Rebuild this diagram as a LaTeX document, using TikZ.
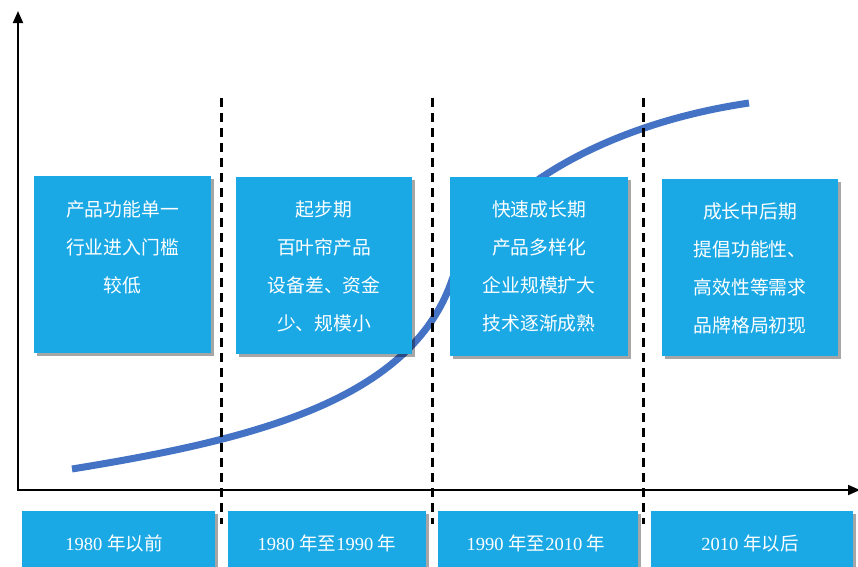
\documentclass[tikz,border=0pt]{standalone}
\usepackage{fontspec}
\setmainfont{Noto Sans CJK SC}
\newfontfamily\serifnum{Liberation Serif}
\usetikzlibrary{shadows,arrows.meta}
\definecolor{boxblue}{HTML}{1BA9E6}
\definecolor{curveblue}{HTML}{4472C4}
\begin{document}
\begin{tikzpicture}[x=1pt,y=-1pt,
  box/.style={fill=boxblue, draw=none, inner sep=0pt,
    drop shadow={shadow xshift=2.5pt, shadow yshift=-2.5pt, fill=black, opacity=0.35}},
  topbox/.style={box, minimum width=177pt, minimum height=177pt},
  botbox/.style={box, minimum height=60pt},
  boxtext/.style={text=white, align=center, inner sep=0pt, anchor=north,
    font=\fontsize{18.8}{38}\selectfont},
  yeartext/.style={text=white, inner sep=0pt, font=\fontsize{18.5}{22}\selectfont},
  divider/.style={draw=black, line width=3pt, dash pattern=on 9pt off 6pt},
  axis/.style={draw=black, line width=1.8pt, -{Triangle[length=12pt,width=10pt]}},
  growth/.style={draw=curveblue, line width=7pt}
]
\useasboundingbox[fill=white] (0,0) rectangle (858,566);

% growth curve
\coordinate (c0) at (72,469);
\coordinate (cm) at (452,280);
\coordinate (c1) at (749,103);
\draw[growth] (c0) .. controls (250,440) and (410,402) .. (cm)
              .. controls (484,195) and (600,125) .. (c1);

% dividers
\foreach \i/\x in {1/221,2/432,3/643}{
  \coordinate (d\i t) at (\x,98);
  \coordinate (d\i b) at (\x,524);
  \draw[divider] (d\i t) -- (d\i b);
}

% axes
\coordinate (O) at (18,490);
\coordinate (ytop) at (18,11);
\coordinate (xend) at (860,490);
\draw[axis] ([yshift=0.9pt]O) -- (ytop);
\draw[axis] ([xshift=-0.9pt]O) -- (xend);

% top boxes
\node[topbox] (b1) at (122.5,264.5) {};
\node[topbox, minimum width=176pt] (b2) at (324,265.5) {};
\node[topbox, minimum width=178pt, minimum height=179pt] (b3) at (539,266.5) {};
\node[topbox, minimum width=176pt] (b4) at (750,267.5) {};

\node[boxtext] (t1) at (122.5,200) {产品功能单一\\行业进入门槛\\较低};
\node[boxtext] (t2) at (324,200) {起步期\\百叶帘产品\\设备差、资金\\少、规模小};
\node[boxtext] (t3) at (539,200) {快速成长期\\产品多样化\\企业规模扩大\\技术逐渐成熟};
\node[boxtext] (t4) at (750,202) {成长中后期\\提倡功能性、\\高效性等需求\\品牌格局初现};

% bottom boxes
\node[botbox, minimum width=193pt] (y1) at (118.5,541) {};
\node[botbox, minimum width=198pt] (y2) at (327,541) {};
\node[botbox, minimum width=200pt] (y3) at (538,541) {};
\node[botbox, minimum width=202pt] (y4) at (752,541) {};

\node[yeartext] (l1) at (114,543) {{\serifnum 1980 }年以前};
\node[yeartext] (l2) at (327,543) {{\serifnum 1980 }年至{\serifnum 1990 }年};
\node[yeartext] (l3) at (536,543) {{\serifnum 1990 }年至{\serifnum 2010 }年};
\node[yeartext] (l4) at (750,543) {{\serifnum 2010 }年以后};
\end{tikzpicture}
\end{document}
